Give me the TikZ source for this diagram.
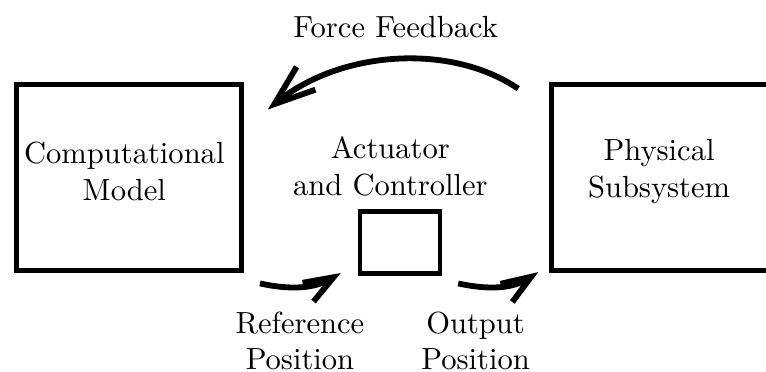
\documentclass[tikz,border=0pt]{standalone}
\usetikzlibrary{arrows.meta}
\tikzset{
  block/.style={draw,line width=1.6pt,minimum width=#1,align=center,inner sep=0pt},
  flow/.style={line width=1.9pt,-{Straight Barb[#1]}},
}
\begin{document}
\begin{tikzpicture}
    \useasboundingbox (0,0) rectangle (8.81,4.27);
    % the three blocks
    \node[block=2.59cm,minimum height=2.14cm] (model) at (1.48,2.23) {};
    \node[block=2.53cm,minimum height=2.14cm] (phys) at (7.61,2.23) {};
    \node[block=0.92cm,minimum height=0.71cm] (act) at (4.60,1.48) {};
    \node[align=center] (modellabel) at (1.43,2.30) {Computational\\Model};
    \node[align=center] (physlabel) at (7.58,2.30) {Physical\\Subsystem};
    \node[align=center] (actlabel) at (4.49,2.36) {Actuator\\and Controller};
    % arrow ends
    \coordinate (fbA) at (5.96,3.25);
    \coordinate (fbB) at (3.08,3.01);
    \coordinate (refA) at (2.99,1.01);
    \coordinate (refB) at (3.92,1.13);
    \coordinate (outA) at (5.27,1.01);
    \coordinate (outB) at (6.19,1.14);
    \draw[flow={length=0.47cm,width=0.34cm}] (fbA) .. controls (5.18,3.78) and (3.91,3.69) .. (fbB);
    \draw[flow={length=0.34cm,width=0.25cm}] (refA) .. controls (3.45,0.91) and (3.68,0.99) .. (refB);
    \draw[flow={length=0.34cm,width=0.25cm}] (outA) .. controls (5.73,0.91) and (5.96,0.99) .. (outB);
    % labels
    \node (fb) at (4.55,3.96) {Force Feedback};
    \node[align=center] (ref) at (3.45,0.35) {Reference\\Position};
    \node[align=center] (out) at (5.47,0.35) {Output\\Position};
\end{tikzpicture}
\end{document}
